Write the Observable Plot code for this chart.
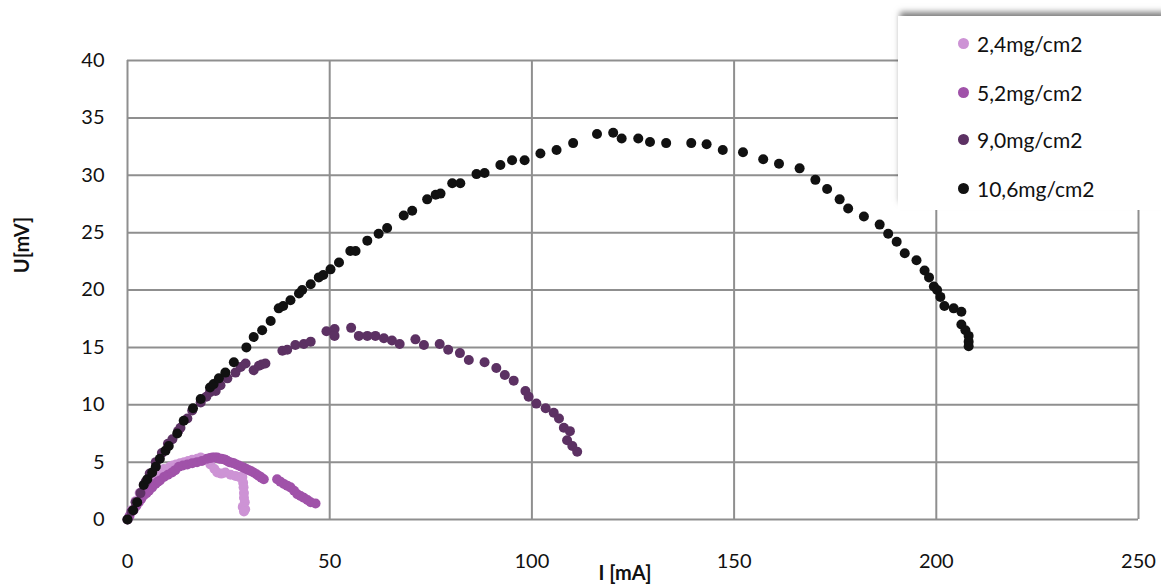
<!DOCTYPE html>
<html>
<head>
<meta charset="utf-8">
<script src="https://cdn.jsdelivr.net/npm/d3@7"></script>
<script src="https://cdn.jsdelivr.net/npm/@observablehq/plot@0.6"></script>
<style>
  html, body { margin: 0; padding: 0; background: #fff; }
  #wrap { position: relative; width: 1161px; height: 587px; overflow: hidden; font-family: Lato, "Open Sans", sans-serif; }
  #legend { position: absolute; left: 898px; top: 16px; width: 270px; height: 194px; background: #fff;
            box-shadow: 0 -6px 6px -2px rgba(0,0,0,0.5); }
  .row { position: absolute; left: 60px; height: 24px; display: flex; align-items: center; font-size: 21px; color: #111; }
  .sw { width: 11px; height: 11px; border-radius: 50%; margin-right: 8px; }
</style>
</head>
<body>
<div id="wrap"></div>
<script>
// Series labels and colours
const seriesNames = ["2,4mg/cm2", "5,2mg/cm2", "9,0mg/cm2", "10,6mg/cm2"];
const seriesColors = ["#cd93d5", "#a052a9", "#5c3163", "#111111"];

// [I (mA), U (mV)] per series
const s24 = [[0,0],[1,0.8],[2,1.6],[3,2.3],[4,3.0],[5,3.5],[5.8,3.8],[6.5,4.0],[7.3,4.2],[8,4.3],[9,4.4],[10.5,4.6],[11.2,4.7],[12,4.8],[13,4.9],[14,5.0],[15,5.1],[16,5.2],[17.2,5.3],[18.1,5.4],[18.8,5.3],[19.5,5.2],[20.5,4.8],[21.5,4.4],[22.2,4.1],[23.2,4.0],[24.2,4.1],[25.5,3.9],[26.7,3.8],[27.6,3.7],[28.4,3.7],[28.6,3.2],[28.7,2.8],[28.8,2.3],[28.8,1.9],[29.0,1.5],[28.5,1.1],[29.1,0.9],[28.8,0.7]];
const s52 = [[0.5,0.3],[1.5,0.8],[2.2,1.2],[2.8,1.5],[3.4,1.8],[4,2.1],[4.7,2.3],[5.3,2.5],[6.1,2.8],[6.9,3.1],[7.5,3.3],[8,3.4],[9,3.7],[10,3.9],[11,4.1],[11.8,4.3],[12.7,4.6],[13.7,4.7],[14.8,4.8],[16,4.9],[17.2,5.0],[18.4,5.1],[19.7,5.3],[20.4,5.35],[21,5.4],[21.6,5.4],[22.2,5.4],[22.7,5.3],[23.2,5.3],[23.7,5.25],[24.2,5.2],[24.7,5.1],[25.2,5.0],[25.8,4.95],[26.3,4.9],[26.9,4.8],[27.5,4.7],[28.2,4.6],[28.8,4.5],[29.4,4.4],[30,4.3],[30.6,4.2],[31.2,4.1],[31.9,3.95],[32.5,3.8],[33.1,3.65],[33.7,3.5],[37,3.5],[37.8,3.3],[38.7,3.1],[39.5,2.95],[40.3,2.8],[41.2,2.5],[42,2.2],[42.8,2.05],[43.6,1.9],[44.5,1.7],[45.3,1.5],[46.5,1.4]];
const s90 = [[0,0],[1,0.7],[2,1.5],[3.2,2.3],[4.5,3.3],[5.5,4.0],[7,5.0],[8.5,5.8],[10,6.6],[11.1,7.0],[12.5,7.7],[13.1,8.0],[14.8,8.8],[16,9.5],[18.1,10.2],[19.5,10.7],[20.4,11.1],[21.8,11.2],[23,11.7],[24.7,12.3],[26.7,12.8],[28,13.3],[29.2,13.6],[31.2,13.0],[32.5,13.4],[33.2,13.5],[34.1,13.6],[38.3,14.7],[39.5,14.8],[41.5,15.2],[43.6,15.3],[45.3,15.5],[49.2,16.4],[51.2,16.6],[51.2,16.0],[55.3,16.7],[57.2,16.0],[59.3,16.0],[61.3,16.0],[63.4,15.8],[65.4,15.6],[67.3,15.3],[71.2,15.7],[73.3,15.2],[77.2,15.3],[79.3,14.8],[82.2,14.5],[84.4,13.9],[88.3,13.7],[91.2,13.2],[93.3,12.6],[95.5,12.1],[98.4,11.2],[99.2,10.7],[101.1,10.1],[103.4,9.7],[105.4,9.3],[106.7,8.8],[107.9,8.0],[109.4,7.7],[108.7,6.9],[110.0,6.4],[111.2,5.9]];
const s106 = [[0,0],[1.4,0.8],[2.4,1.5],[4.0,3.0],[4.9,3.5],[6.1,4.1],[7.0,4.6],[8.0,5.3],[9.4,6.0],[10.2,6.4],[12.3,7.5],[13.9,8.6],[16.2,9.7],[18.1,10.5],[20.4,11.5],[21.3,11.8],[22.6,12.3],[24.2,12.8],[26.3,13.7],[29.4,15.0],[31.2,15.9],[33.3,16.5],[35.4,17.3],[37.4,18.4],[38.5,18.6],[40.3,19.1],[42.4,19.7],[43.2,20.0],[45.3,20.5],[47.3,21.1],[48.4,21.3],[50.2,21.8],[52.3,22.4],[55.1,23.4],[56.4,23.4],[59.3,24.3],[62.1,24.9],[64.2,25.4],[68.3,26.5],[70.4,26.9],[74.1,27.9],[76.2,28.3],[77.4,28.4],[80.3,29.3],[82.3,29.3],[86.3,30.1],[88.3,30.2],[92.2,30.9],[95.1,31.3],[98.2,31.3],[102.1,31.9],[106.1,32.2],[110.2,32.8],[116.1,33.6],[120.1,33.7],[122.2,33.2],[126.3,33.2],[129.2,32.9],[133.2,32.8],[139.4,32.8],[143.2,32.7],[147.2,32.2],[152.2,32.0],[157.2,31.4],[161.1,31.0],[166.2,30.6],[170.1,29.6],[173.0,28.8],[176.1,27.9],[178.2,27.1],[182.1,26.4],[186.0,25.7],[188.1,24.9],[190.2,24.2],[192.2,23.2],[195.1,22.6],[197.1,21.7],[198.2,21.1],[199.4,20.3],[200.2,20.0],[201.0,19.4],[202.0,18.6],[204.3,18.4],[206.2,18.1],[206.2,17.0],[207.2,16.5],[208.0,16.0],[208.0,15.5],[208.0,15.1]];

// Axis ticks
const xTicks = [0, 50, 100, 150, 200, 250];
const yTicks = [0, 5, 10, 15, 20, 25, 30, 35, 40];
const xLabel = "I [mA]";
const yLabel = "U[mV]";

const allSeries = [s24, s52, s90, s106];
const rows = allSeries.flatMap((s, k) => s.map(([i, u]) => ({i, u, series: seriesNames[k]})));

const grid = "#8f8f8f";
const chart = Plot.plot({
  width: 1161,
  height: 587,
  marginLeft: 127,
  marginRight: 23,
  marginTop: 60,
  marginBottom: 68,
  style: { fontFamily: "Lato, 'Open Sans', sans-serif", fontSize: "20px", color: "#111", background: "#fff" },
  x: { domain: [0, 250], ticks: xTicks, label: null },
  y: { domain: [0, 40], ticks: yTicks, label: null },
  color: { domain: seriesNames, range: seriesColors },
  marks: [
    Plot.gridX(xTicks, { stroke: grid, strokeOpacity: 1, strokeWidth: 2 }),
    Plot.gridY(yTicks, { stroke: grid, strokeOpacity: 1, strokeWidth: 2 }),
    Plot.axisX(xTicks, { tickSize: 0, tickPadding: 34, fontSize: 20, fill: "#111" }),
    Plot.axisY(yTicks, { tickSize: 0, tickPadding: 23, fontSize: 20, fill: "#111" }),
    Plot.dot(rows, { x: "i", y: "u", fill: "series", r: 5, stroke: null })
  ]
});

const svg = d3.select(chart);
svg.append("text").attr("x", 625).attr("y", 580).attr("text-anchor", "middle")
  .attr("font-weight", "bold").attr("font-size", 20).attr("fill", "#111").text(xLabel);
svg.append("text").attr("transform", "translate(29,245) rotate(-90)").attr("text-anchor", "middle")
  .attr("font-weight", "bold").attr("font-size", 20).attr("fill", "#111").text(yLabel);

const wrap = document.getElementById("wrap");
wrap.appendChild(chart);

const legend = document.createElement("div");
legend.id = "legend";
const rowTops = [15, 64, 111, 160];
seriesNames.forEach((name, k) => {
  const r = document.createElement("div");
  r.className = "row";
  r.style.top = rowTops[k] + "px";
  const sw = document.createElement("span");
  sw.className = "sw";
  sw.style.background = seriesColors[k];
  r.appendChild(sw);
  r.appendChild(document.createTextNode(name));
  legend.appendChild(r);
});
wrap.appendChild(legend);
</script>
</body>
</html>
